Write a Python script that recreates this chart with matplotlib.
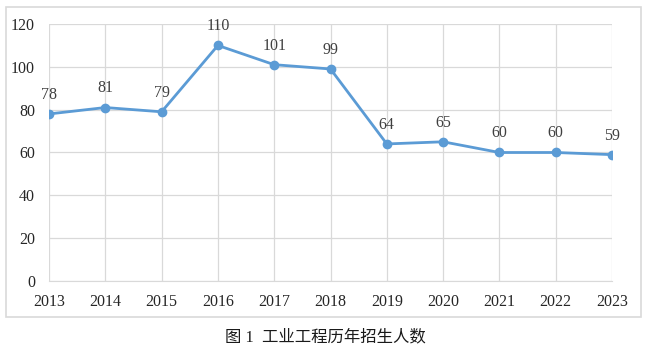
import matplotlib
matplotlib.use("Agg")
import matplotlib.pyplot as plt
from matplotlib.patches import Rectangle

years = [2013, 2014, 2015, 2016, 2017, 2018, 2019, 2020, 2021, 2022, 2023]
students = [78, 81, 79, 110, 101, 99, 64, 65, 60, 60, 59]
y_ticks = [0, 20, 40, 60, 80, 100, 120]
caption = "图 1  工业工程历年招生人数"

plt.rcParams['font.family'] = ['Liberation Serif', 'Noto Sans CJK SC', 'DejaVu Sans']

fig = plt.figure(figsize=(6.5, 3.55), dpi=100)
ax = fig.add_axes([49 / 650, 74 / 355, 563 / 650, 257 / 355])

# outer chart frame
fig.patches.append(Rectangle((6 / 650, 38 / 355), 635 / 650, 310 / 355,
                             transform=fig.transFigure, fill=False,
                             edgecolor='#d9d9d9', linewidth=1.2))

# Plot line with markers
line_color = '#5b9bd5'
ax.plot(years, students, color=line_color, linewidth=2,
        marker='o', markersize=6, zorder=3)

# Data labels
for x, y in zip(years, students):
    ax.annotate(str(y), (x, y), xytext=(0, 8), textcoords='offset points',
                ha='center', va='bottom', fontsize=11.5, color='#404040')

ax.set_xlim(years[0], years[-1])
ax.set_ylim(0, 120)
ax.set_xticks(years)
ax.set_yticks(y_ticks)
ax.grid(True, color='#d9d9d9', linewidth=0.9)
ax.set_axisbelow(True)
for side in ['top', 'right', 'left']:
    ax.spines[side].set_visible(False)
ax.spines['bottom'].set_color('#d9d9d9')
ax.tick_params(length=0, labelsize=11.5, labelcolor='#262626')
ax.tick_params(axis='y', pad=10)
ax.tick_params(axis='x', pad=9)

fig.text(0.5, 18 / 355, caption, ha='center', va='center', fontsize=11.8,
         color='#1a1a1a')

fig.savefig("out.png", dpi=100)
